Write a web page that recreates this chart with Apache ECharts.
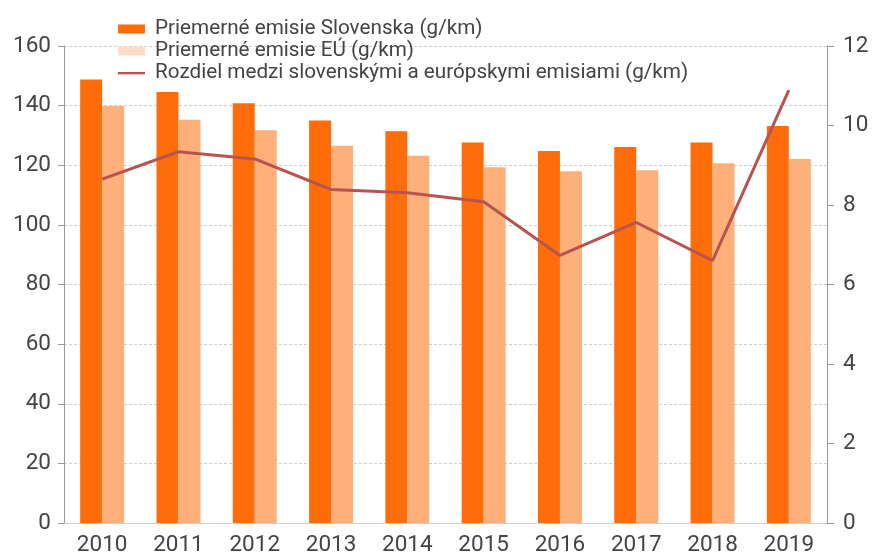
<!DOCTYPE html>
<html>
<head>
<meta charset="utf-8">
<script src="https://cdn.jsdelivr.net/npm/echarts@6/dist/echarts.min.js"></script>
<style>html,body{margin:0;padding:0;background:#fff}#c{width:873px;height:553px}</style>
</head>
<body>
<div id="c"></div>
<script>
var years = ['2010','2011','2012','2013','2014','2015','2016','2017','2018','2019'];
var skEmissions = [148.8, 144.6, 140.8, 135.0, 131.4, 127.6, 124.8, 126.1, 127.6, 133.2];
var euEmissions = [139.9, 135.3, 131.7, 126.5, 123.2, 119.3, 118.0, 118.3, 120.7, 122.1];
var difference = [8.65, 9.34, 9.16, 8.39, 8.31, 8.08, 6.73, 7.56, 6.60, 10.89];
var nameSK = 'Priemerné emisie Slovenska (g/km)';
var nameEU = 'Priemerné emisie EÚ (g/km)';
var nameDiff = 'Rozdiel medzi slovenskými a európskymi emisiami (g/km)';

var chart = echarts.init(document.getElementById('c'), null, {renderer: 'canvas'});
var font = 'Roboto';
var txt = '#444';
chart.setOption({
  animation: false,
  textStyle: {fontFamily: font},
  legend: {
    orient: 'vertical',
    left: 113,
    top: 13,
    itemWidth: 27,
    itemHeight: 9,
    itemGap: 0,
    textStyle: {fontFamily: font, fontSize: 20.7, lineHeight: 22, color: txt, padding: [0,0,0,5]},
    data: [
      {name: nameSK, icon: 'rect', itemStyle: {color: '#FF6D0A'}},
      {name: nameEU, icon: 'rect', itemStyle: {color: '#FDDCC6'}},
      {name: nameDiff, icon: 'path://M0,0M0,3.5L27,3.5L27,5.8L0,5.8ZM27,9', itemStyle: {color: '#B85450'}}
    ]
  },
  grid: {left: 64, right: 46, top: 46, bottom: 30, containLabel: false, outerBoundsMode: 'none'},
  xAxis: {
    type: 'category',
    data: years,
    axisLine: {lineStyle: {color: '#cfcfcf', width: 1}},
    axisTick: {show: false},
    axisLabel: {fontFamily: font, fontSize: 22.5, color: txt, margin: 11}
  },
  yAxis: [
    {
      type: 'value', min: 0, max: 160, interval: 20,
      axisLine: {show: true, lineStyle: {color: '#999'}},
      axisTick: {show: true, length: 6, lineStyle: {color: '#999'}},
      axisLabel: {fontFamily: font, fontSize: 22.5, color: txt, margin: 13},
      splitLine: {show: true, lineStyle: {color: '#cfcfcf', type: [3, 2]}}
    },
    {
      type: 'value', min: 0, max: 12, interval: 2, position: 'right',
      axisLine: {show: true, lineStyle: {color: '#999'}},
      axisTick: {show: true, length: 7, lineStyle: {color: '#999'}},
      axisLabel: {fontFamily: font, fontSize: 22.5, color: txt, margin: 16},
      splitLine: {show: false}
    }
  ],
  series: [
    {name: nameSK, type: 'bar', data: skEmissions, barWidth: 22, barGap: '0%', itemStyle: {color: '#FF6D0A'}},
    {name: nameEU, type: 'bar', data: euEmissions, barWidth: 22, barGap: '0%', itemStyle: {color: '#FFB07A'}},
    {name: nameDiff, type: 'line', yAxisIndex: 1, data: difference, symbol: 'none', lineStyle: {color: '#B85450', width: 3}, itemStyle: {color: '#B85450'}, z: 5}
  ]
});
</script>
</body>
</html>
